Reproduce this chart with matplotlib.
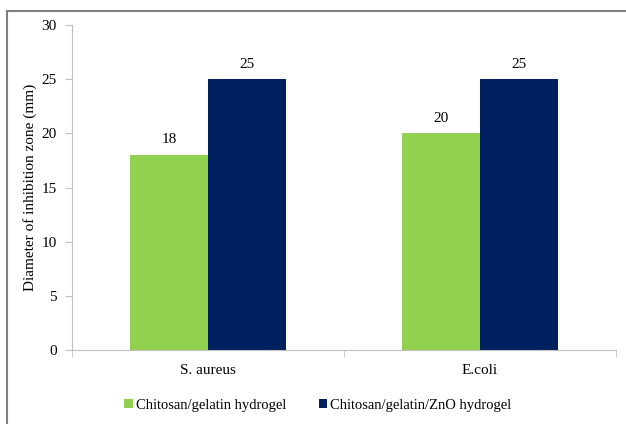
import numpy as np
import matplotlib.pyplot as plt
from matplotlib.patches import Rectangle

plt.rcParams['font.family'] = ['Liberation Serif', 'DejaVu Serif']

categories = ['S. aureus', 'E.coli']
series_names = ['Chitosan/gelatin hydrogel', 'Chitosan/gelatin/ZnO hydrogel']
cg_values = [18, 20]
cgzno_values = [25, 25]
colors = ['#92D050', '#002060']

fig = plt.figure(figsize=(6.26, 4.24), dpi=100)
ax = fig.add_axes([0.115, 0.1745, 0.869, 0.7665])

x = np.arange(len(categories))
w = 0.285
b1 = ax.bar(x - w / 2, cg_values, w, color=colors[0], label=series_names[0])
b2 = ax.bar(x + w / 2, cgzno_values, w, color=colors[1], label=series_names[1])

for bars, vals in [(b1, cg_values), (b2, cgzno_values)]:
    for r, v in zip(bars, vals):
        ax.text(r.get_x() + r.get_width() / 2, v + 0.8, str(v),
                ha='center', va='bottom', fontsize=11)

ax.set_xlim(-0.5, 1.5)
ax.set_ylim(0, 30)
ax.set_yticks(range(0, 31, 5))
ax.set_xticks(x)
ax.set_xticklabels(categories, fontsize=11)
ax.set_xticks([-0.5, 0.5, 1.5], minor=True)
ax.tick_params(axis='x', which='major', length=0, pad=10)
ax.tick_params(axis='x', which='minor', length=5, color='#BFBFBF')
ax.tick_params(axis='y', length=5, color='#BFBFBF', labelsize=11, pad=6)
ax.set_ylabel('Diameter of inhibition zone (mm)', fontsize=11, labelpad=3)

for s in ['top', 'right']:
    ax.spines[s].set_visible(False)
ax.spines['left'].set_color('#BFBFBF')
ax.spines['bottom'].set_color('#BFBFBF')

ax.legend(loc='center', bbox_to_anchor=(318 / 626, 1 - 405 / 424),
          bbox_transform=fig.transFigure, ncol=2, frameon=False,
          fontsize=10.5, handlelength=0.6, handleheight=0.6,
          handletextpad=0.2, columnspacing=2.2)

# outer chart frame
fig.patches.append(Rectangle((7 / 626, -0.1), 1.2, 1 - 11 / 424 + 0.1,
                             transform=fig.transFigure, fill=False,
                             edgecolor='#808080', linewidth=1.5))

fig.savefig('out.png', dpi=100)
